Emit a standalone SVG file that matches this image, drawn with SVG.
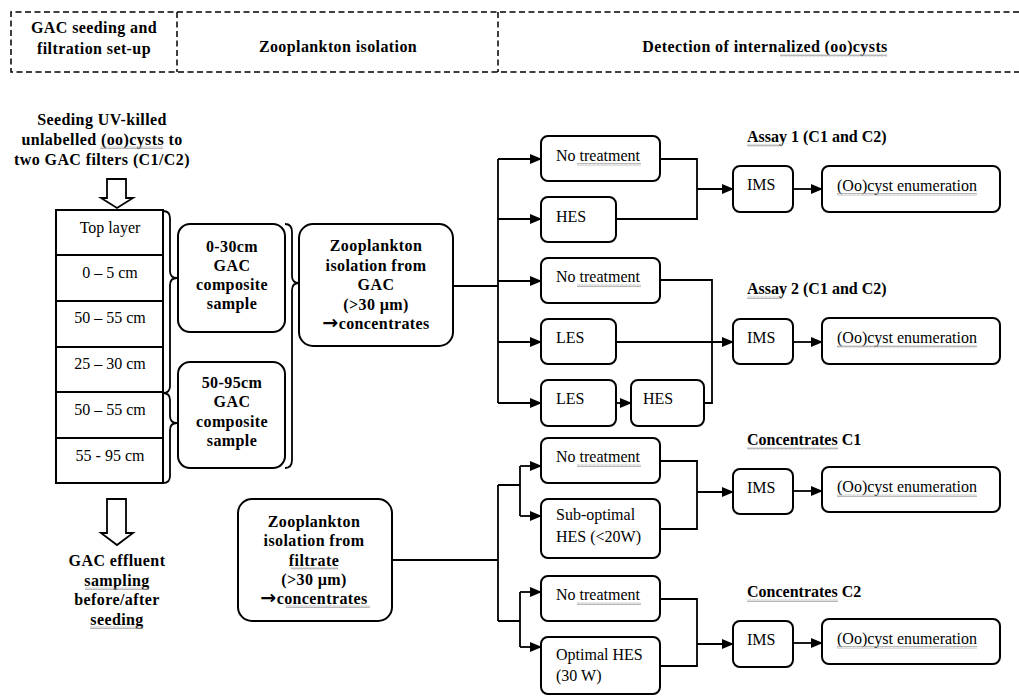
<svg xmlns="http://www.w3.org/2000/svg" width="1019" height="696" viewBox="0 0 1019 696">
<style>
text{font-family:"Liberation Serif","Times New Roman",serif;font-size:16px;fill:#000}
.b{font-weight:bold}
.bs{font-weight:bold;letter-spacing:0.4px}
.c{text-anchor:middle}
.ar{font-family:"DejaVu Sans",sans-serif;font-size:19px;font-weight:bold}
.box{fill:#fff;stroke:#000;stroke-width:2}
.ln{fill:none;stroke:#000;stroke-width:1.8}
.dash{fill:none;stroke:#000;stroke-width:1.5;stroke-dasharray:6 3.5}
.sq{fill:url(#wave)}
</style>
<defs>
<marker id="ah" markerUnits="userSpaceOnUse" markerWidth="12" markerHeight="10" refX="11" refY="5" orient="auto">
<path d="M0,0 L12,5 L0,10 Z" fill="#000"/>
</marker>
<pattern id="wave" width="4" height="3" patternUnits="userSpaceOnUse">
<path d="M0,2.5 L1,0.5 L2,2.5 L3,0.5 L4,2.5" fill="none" stroke="#999" stroke-width="0.7"/>
</pattern>
</defs>
<rect width="1019" height="696" fill="#fff"/>

<g id="header">
<path class="dash" d="M1019,12 H11 V72 H1019 M177,12 V72 M498,12 V72"/>
<text class="bs c" x="94" y="33">GAC seeding and</text>
<text class="bs c" x="94" y="54">filtration set-up</text>
<text class="bs c" x="338" y="52">Zooplankton isolation</text>
<text class="bs c" x="765" y="52">Detection of internalized (oo)cysts</text>
<rect class="sq" x="780" y="54" width="107" height="3"/>
</g>

<g id="seeding">
<text class="bs c" x="102" y="125">Seeding UV-killed</text>
<text class="bs c" x="102" y="145">unlabelled (oo)cysts to</text>
<text class="bs c" x="102" y="165">two GAC filters (C1/C2)</text>
<rect class="sq" x="100" y="146" width="63" height="3"/>
<polygon points="107,179 126,179 126,198 133,198 117,208 101,198 107,198" fill="#fff" stroke="#000" stroke-width="1.8"/>
</g>

<g id="filter-stack">
<rect x="56" y="210" width="107" height="273" fill="#fff" stroke="#000" stroke-width="2"/>
<path class="ln" d="M56,255 H163 M56,301 H163 M56,347 H163 M56,392 H163 M56,438 H163"/>
<text class="c" x="110" y="233">Top layer</text>
<text class="c" x="110" y="278">0 – 5 cm</text>
<text class="c" x="110" y="323">50 – 55 cm</text>
<text class="c" x="110" y="369">25 – 30 cm</text>
<text class="c" x="110" y="415">50 – 55 cm</text>
<text class="c" x="110" y="461">55 - 95 cm</text>
</g>

<g id="braces">
<path class="ln" d="M163,211 Q170,211 170,218 V271 Q170,278 177,278 Q170,278 170,285 V386 Q170,393 163,393"/>
<path class="ln" d="M163,393 Q170,393 170,400 V416 Q170,423 177,423 Q170,423 170,430 V476 Q170,483 163,483"/>
<path class="ln" d="M285,224 Q292,224 292,232 V276 Q292,283 299,283 Q292,283 292,290 V460 Q292,468 285,468"/>
</g>

<g id="composite-0-30">
<rect class="box" x="178" y="224" width="107" height="108" rx="12"/>
<text class="bs c" x="232" y="252">0-30cm</text>
<text class="bs c" x="232" y="271">GAC</text>
<text class="bs c" x="232" y="290">composite</text>
<text class="bs c" x="232" y="309">sample</text>
</g>

<g id="composite-50-95">
<rect class="box" x="178" y="362" width="107" height="106" rx="12"/>
<text class="bs c" x="232" y="388">50-95cm</text>
<text class="bs c" x="232" y="407">GAC</text>
<text class="bs c" x="232" y="427">composite</text>
<text class="bs c" x="232" y="446">sample</text>
</g>

<g id="zoo-gac">
<rect class="box" x="299" y="224" width="154" height="122" rx="14"/>
<text class="bs c" x="376" y="251">Zooplankton</text>
<text class="bs c" x="376" y="271">isolation from</text>
<text class="bs c" x="376" y="290">GAC</text>
<text class="bs c" x="376" y="310">(&gt;30 µm)</text>
<text class="bs c" x="376" y="329"><tspan class="ar">→</tspan>concentrates</text>
</g>

<g id="zoo-filtrate">
<rect class="box" x="238" y="499" width="154" height="122" rx="14"/>
<text class="bs c" x="314" y="527">Zooplankton</text>
<text class="bs c" x="314" y="546">isolation from</text>
<text class="bs c" x="314" y="566">filtrate</text>
<text class="bs c" x="314" y="585">(&gt;30 µm)</text>
<text class="bs c" x="314" y="604"><tspan class="ar">→</tspan>concentrates</text>
<rect class="sq" x="291" y="567" width="47" height="3"/>
<rect class="sq" x="286" y="605" width="84" height="3"/>
</g>

<g id="effluent">
<polygon points="107,499 126,499 126,533 133,533 117,545 101,533 107,533" fill="#fff" stroke="#000" stroke-width="1.8"/>
<text class="bs c" x="117" y="566">GAC effluent</text>
<text class="bs c" x="117" y="586">sampling</text>
<text class="bs c" x="117" y="605">before/after</text>
<text class="bs c" x="117" y="625">seeding</text>
<rect class="sq" x="85" y="587" width="64" height="3"/>
<rect class="sq" x="90" y="626" width="53" height="3"/>
</g>

<g id="connectors">
<path class="ln" d="M453,286 H498 M498,159 V403"/>
<path class="ln" marker-end="url(#ah)" d="M498,159 H541"/>
<path class="ln" marker-end="url(#ah)" d="M498,219 H541"/>
<path class="ln" marker-end="url(#ah)" d="M498,281 H541"/>
<path class="ln" marker-end="url(#ah)" d="M498,342 H541"/>
<path class="ln" marker-end="url(#ah)" d="M498,403 H541"/>
<path class="ln" d="M660,159 H697 V219 H616"/>
<path class="ln" marker-end="url(#ah)" d="M697,189 H733"/>
<path class="ln" marker-end="url(#ah)" d="M793,189 H822"/>
<path class="ln" d="M660,280 H712 V403 H704"/>
<path class="ln" marker-end="url(#ah)" d="M616,342 H733"/>
<path class="ln" marker-end="url(#ah)" d="M616,403 H631"/>
<path class="ln" marker-end="url(#ah)" d="M793,342 H822"/>
<path class="ln" d="M392,560 H498 M498,485 V621 M498,485 H520 M520,466 V516 M498,621 H520 M520,592 V647"/>
<path class="ln" marker-end="url(#ah)" d="M520,466 H541"/>
<path class="ln" marker-end="url(#ah)" d="M520,516 H541"/>
<path class="ln" marker-end="url(#ah)" d="M520,592 H541"/>
<path class="ln" marker-end="url(#ah)" d="M520,647 H541"/>
<path class="ln" d="M660,461 H697 V529 H660"/>
<path class="ln" marker-end="url(#ah)" d="M697,492 H733"/>
<path class="ln" marker-end="url(#ah)" d="M793,491 H822"/>
<path class="ln" d="M660,599 H697 V666 H660"/>
<path class="ln" marker-end="url(#ah)" d="M697,644 H733"/>
<path class="ln" marker-end="url(#ah)" d="M793,643 H822"/>
</g>

<g id="assay1-no-treatment">
<rect class="box" x="541" y="136" width="119" height="45" rx="7"/>
<text x="556" y="161">No treatment</text>
<rect class="sq" x="577" y="163" width="64" height="3"/>
</g>
<g id="assay1-hes">
<rect class="box" x="541" y="197" width="75" height="45" rx="7"/>
<text x="556" y="222">HES</text>
</g>
<g id="assay1-label">
<text class="b" x="747" y="142">Assay 1 (C1 and C2)</text>
<rect class="sq" x="747" y="144" width="35" height="3"/>
</g>
<g id="assay1-ims">
<rect class="box" x="733" y="166" width="60" height="46" rx="7"/>
<text x="747" y="190">IMS</text>
</g>
<g id="assay1-enum">
<rect class="box" x="822" y="166" width="178" height="46" rx="7"/>
<text x="837" y="191">(Oo)cyst enumeration</text>
<rect class="sq" x="837" y="193" width="140" height="3"/>
</g>

<g id="assay2-no-treatment">
<rect class="box" x="541" y="258" width="119" height="45" rx="7"/>
<text x="556" y="282">No treatment</text>
<rect class="sq" x="577" y="284" width="64" height="3"/>
</g>
<g id="assay2-les">
<rect class="box" x="541" y="319" width="75" height="45" rx="7"/>
<text x="556" y="343">LES</text>
</g>
<g id="assay2-les2">
<rect class="box" x="541" y="380" width="75" height="46" rx="7"/>
<text x="556" y="404">LES</text>
</g>
<g id="assay2-hes">
<rect class="box" x="631" y="380" width="73" height="46" rx="7"/>
<text x="643" y="404">HES</text>
</g>
<g id="assay2-label">
<text class="b" x="747" y="294">Assay 2 (C1 and C2)</text>
<rect class="sq" x="747" y="296" width="35" height="3"/>
</g>
<g id="assay2-ims">
<rect class="box" x="733" y="319" width="60" height="45" rx="7"/>
<text x="747" y="343">IMS</text>
</g>
<g id="assay2-enum">
<rect class="box" x="822" y="318" width="178" height="46" rx="7"/>
<text x="837" y="343">(Oo)cyst enumeration</text>
<rect class="sq" x="837" y="345" width="140" height="3"/>
</g>

<g id="c1-no-treatment">
<rect class="box" x="541" y="438" width="119" height="45" rx="7"/>
<text x="556" y="462">No treatment</text>
<rect class="sq" x="577" y="464" width="64" height="3"/>
</g>
<g id="c1-suboptimal">
<rect class="box" x="541" y="499" width="119" height="59" rx="7"/>
<text x="556" y="520">Sub-optimal</text>
<text x="556" y="542">HES (&lt;20W)</text>
</g>
<g id="c1-label">
<text class="b" x="747" y="445">Concentrates C1</text>
<rect class="sq" x="747" y="447" width="91" height="3"/>
</g>
<g id="c1-ims">
<rect class="box" x="733" y="469" width="60" height="45" rx="7"/>
<text x="747" y="493">IMS</text>
</g>
<g id="c1-enum">
<rect class="box" x="822" y="467" width="178" height="45" rx="7"/>
<text x="837" y="492">(Oo)cyst enumeration</text>
<rect class="sq" x="837" y="494" width="140" height="3"/>
</g>

<g id="c2-no-treatment">
<rect class="box" x="541" y="576" width="119" height="45" rx="7"/>
<text x="556" y="600">No treatment</text>
<rect class="sq" x="577" y="602" width="64" height="3"/>
</g>
<g id="c2-optimal">
<rect class="box" x="541" y="637" width="119" height="57" rx="7"/>
<text x="556" y="660">Optimal HES</text>
<text x="556" y="681">(30 W)</text>
</g>
<g id="c2-label">
<text class="b" x="747" y="597">Concentrates C2</text>
<rect class="sq" x="747" y="599" width="91" height="3"/>
</g>
<g id="c2-ims">
<rect class="box" x="733" y="621" width="60" height="46" rx="7"/>
<text x="747" y="645">IMS</text>
</g>
<g id="c2-enum">
<rect class="box" x="822" y="619" width="178" height="45" rx="7"/>
<text x="837" y="644">(Oo)cyst enumeration</text>
<rect class="sq" x="837" y="646" width="140" height="3"/>
</g>
</svg>
